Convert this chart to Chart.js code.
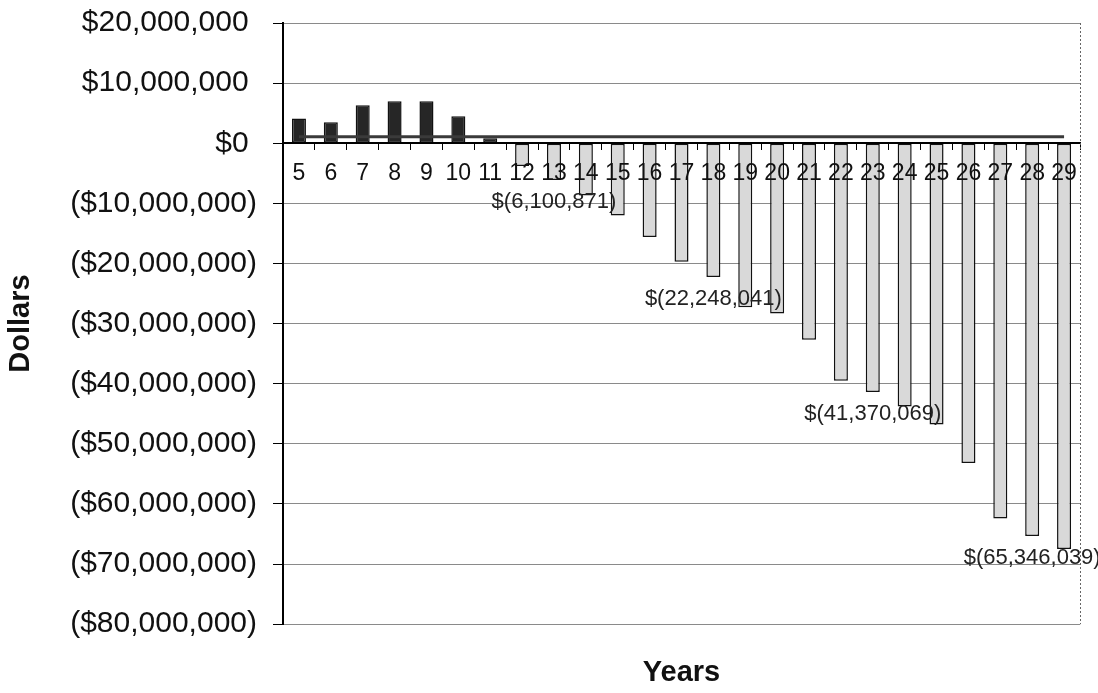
<!DOCTYPE html>
<html>
<head>
<meta charset="utf-8">
<title>Cash Flow by Year</title>
<style>
  body { margin: 0; padding: 0; background: #fff; }
  #chartBox { width: 1098px; height: 693px; }
</style>
<script src="https://cdn.jsdelivr.net/npm/chart.js"></script>
</head>
<body>
<div id="chartBox"><canvas id="cashChart" width="1098" height="693"></canvas></div>
<script>
// years on the x axis
const years = ['5','6','7','8','9','10','11','12','13','14','15','16','17','18','19','20','21','22','23','24','25','26','27','28','29'];

// yearly net cash flow (bars)
const cashFlow = [
  4100000, 3500000, 6300000, 7000000, 7000000, 4500000, 850000,
  -3800000, -6100871, -8700000, -12000000, -15600000, -19700000, -22248041,
  -27300000, -28300000, -32700000, -39500000, -41370069, -43800000,
  -46800000, -53200000, -62400000, -65346039, -67500000
];

// flat line drawn just above zero
const lineValues = [
  1100000, 1100000, 1100000, 1100000, 1100000, 1100000, 1100000,
  1100000, 1100000, 1100000, 1100000, 1100000, 1100000, 1100000,
  1100000, 1100000, 1100000, 1100000, 1100000, 1100000,
  1100000, 1100000, 1100000, 1100000, 1100000
];

// years whose bar carries a value label
const labelledYears = ['13', '18', '23', '28'];

// y axis range
const yMin = -80000000;
const yMax = 20000000;
const yStep = 10000000;

function money(v) {
  if (v < 0) return '($' + Math.abs(v).toLocaleString('en-US') + ')';
  return '$' + v.toLocaleString('en-US') + ' ';
}

function moneyLabel(v) {
  return '$(' + Math.abs(v).toLocaleString('en-US') + ')';
}

const valueLabels = {
  id: 'valueLabels',
  afterDatasetsDraw(chart) {
    const ctx = chart.ctx;
    const meta = chart.getDatasetMeta(0);
    ctx.save();
    ctx.font = '22px "Liberation Sans", Arial, sans-serif';
    ctx.fillStyle = '#222';
    ctx.textAlign = 'center';
    ctx.textBaseline = 'middle';
    labelledYears.forEach(function (yr) {
      const i = years.indexOf(yr);
      const bar = meta.data[i];
      ctx.fillText(moneyLabel(cashFlow[i]), bar.x, bar.y + 22);
    });
    ctx.restore();
  }
};

const rightEdge = {
  id: 'rightEdge',
  afterDraw(chart) {
    const a = chart.chartArea;
    const ctx = chart.ctx;
    ctx.save();
    ctx.strokeStyle = '#666';
    ctx.lineWidth = 1;
    ctx.setLineDash([2, 2]);
    ctx.beginPath();
    ctx.moveTo(a.right + 0.5, a.top);
    ctx.lineTo(a.right + 0.5, a.bottom);
    ctx.stroke();
    ctx.restore();
  }
};

const ctx = document.getElementById('cashChart').getContext('2d');
new Chart(ctx, {
  type: 'bar',
  data: {
    labels: years,
    datasets: [{
      label: 'Cash flow',
      data: cashFlow,
      order: 1,
      backgroundColor: cashFlow.map(v => v >= 0 ? '#262626' : '#d9d9d9'),
      borderColor: '#111',
      borderWidth: 1.5,
      borderSkipped: false,
      barPercentage: 0.44,
      categoryPercentage: 1.0
    }, {
      type: 'line',
      label: 'Line',
      data: lineValues,
      order: 0,
      borderColor: '#3a3a3a',
      borderWidth: 3,
      pointRadius: 0,
      fill: false,
      tension: 0
    }]
  },
  options: {
    responsive: false,
    animation: false,
    layout: { padding: { top: 23, right: 18, left: 0, bottom: 0 } },
    plugins: {
      legend: { display: false },
      tooltip: { enabled: false },
      title: {
        display: true,
        text: 'Years',
        position: 'bottom',
        fullSize: false,
        color: '#111',
        font: { family: '"Liberation Sans", Arial, sans-serif', size: 29, weight: 'bold' },
        padding: { top: 31, bottom: 3 }
      }
    },
    scales: {
      x: {
        position: { y: 0 },
        grid: { drawOnChartArea: false, drawTicks: true, tickLength: 6, color: '#000', offset: true },
        border: { display: true, color: '#000', width: 2, z: 1 },
        ticks: {
          z: 1,
          autoSkip: false,
          maxRotation: 0,
          padding: 11,
          color: '#111',
          font: { family: '"Liberation Sans", Arial, sans-serif', size: 23 }
        }
      },
      y: {
        min: yMin,
        max: yMax,
        afterFit(scale) {
          scale.width = 283;
          scale.paddingTop = 0;
          scale.paddingBottom = 0;
        },
        grid: { color: '#8a8a8a', lineWidth: 1, drawTicks: true, tickLength: 10, tickColor: '#000' },
        border: { display: true, color: '#000', width: 2 },
        ticks: {
          stepSize: yStep,
          padding: 16,
          color: '#111',
          font: { family: '"Liberation Sans", Arial, sans-serif', size: 30 },
          callback: v => money(v)
        },
        title: {
          display: true,
          text: 'Dollars',
          color: '#111',
          font: { family: '"Liberation Sans", Arial, sans-serif', size: 29, weight: 'bold' },
          padding: { top: 4, bottom: 0 }
        }
      }
    }
  },
  plugins: [valueLabels, rightEdge]
});
</script>
</body>
</html>
